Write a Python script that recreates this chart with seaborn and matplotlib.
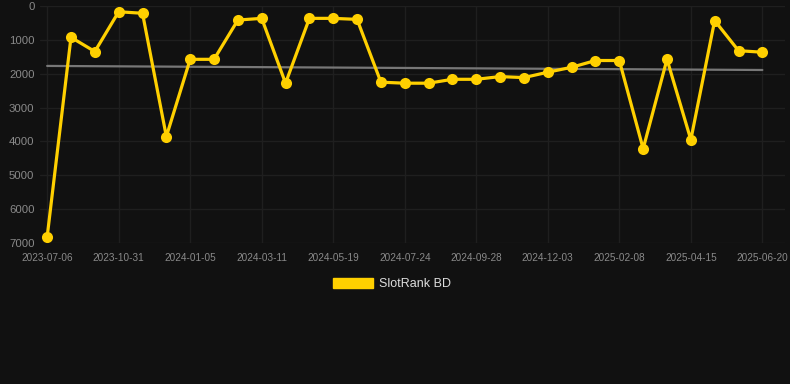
import seaborn as sns
import matplotlib.pyplot as plt
import matplotlib.patches as mpatches
import pandas as pd

dates = [
    "2023-07-06", "2023-08-15", "2023-09-22", "2023-10-31", "2023-11-22",
    "2023-12-14", "2024-01-05", "2024-01-27", "2024-02-18", "2024-03-11",
    "2024-04-03", "2024-04-26", "2024-05-19", "2024-06-10", "2024-07-02",
    "2024-07-24", "2024-08-15", "2024-09-06", "2024-09-28", "2024-10-20",
    "2024-11-11", "2024-12-03", "2024-12-25", "2025-01-16", "2025-02-08",
    "2025-03-02", "2025-03-24", "2025-04-15", "2025-05-07", "2025-05-29",
    "2025-06-20",
]
rank = [
    6820, 925, 1345, 170, 215, 3855, 1575, 1575, 415, 365,
    2280, 365, 365, 395, 2250, 2280, 2280, 2165, 2165, 2085,
    2115, 1955, 1810, 1610, 1610, 4215, 1575, 3950, 430, 1320,
    1365,
]
trend_dates = [dates[0], dates[-1]]
trend_vals = [1770, 1890]
yticks = [0, 1000, 2000, 3000, 4000, 5000, 6000, 7000]

bg = "#111111"
gold = "#FFD000"

sns.set_style("dark", {"axes.facecolor": bg, "figure.facecolor": bg})
plt.rcParams["font.family"] = ["Liberation Sans", "DejaVu Sans"]

df = pd.DataFrame({"date": dates, "rank": rank})
trend = pd.DataFrame({"date": trend_dates, "rank": trend_vals})

fig = plt.figure(figsize=(7.9, 3.84), dpi=100)
ax = fig.add_axes([40 / 790, 1 - 243 / 384, 745 / 790, 237 / 384])

sns.lineplot(data=df, x="date", y="rank", color=gold, linewidth=2.3,
             marker="o", markersize=8, markeredgewidth=0, ax=ax, zorder=3)
sns.lineplot(data=trend, x="date", y="rank", color="#777777", linewidth=1.6,
             ax=ax, zorder=2)

ax.set_ylim(7000, 0)
ax.set_xlim(-0.3, 30.95)
ax.set_yticks(yticks)
ax.set_xticks(range(0, len(dates), 3))
ax.set_xticklabels(dates[::3])
ax.tick_params(axis="y", labelsize=8.2, colors="#8a8a8a", length=0, pad=4)
ax.tick_params(axis="x", labelsize=7.2, colors="#8a8a8a", length=0, pad=7)
ax.grid(True, color="#1f1f1f", linewidth=1.0)
ax.set_axisbelow(True)
for s in ax.spines.values():
    s.set_visible(False)
ax.set_xlabel("")
ax.set_ylabel("")

handle = mpatches.Patch(color=gold, label="SlotRank BD")
fig.legend(handles=[handle], loc="center", bbox_to_anchor=(392 / 790, 1 - 284 / 384),
           frameon=False, fontsize=9, labelcolor="#dddddd",
           handlelength=3.2, handleheight=0.9, handletextpad=0.5)

plt.savefig("out.png", dpi=100, facecolor=bg)
